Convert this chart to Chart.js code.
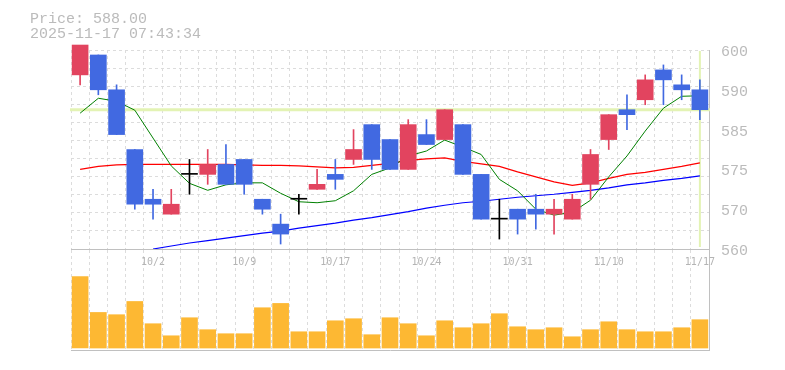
<!DOCTYPE html>
<html>
<head>
<meta charset="utf-8">
<script src="https://cdn.jsdelivr.net/npm/chart.js@4.4.1/dist/chart.umd.min.js"></script>
<style>
body { margin: 0; background: #fff; }
#wrap { position: relative; width: 785px; height: 370px; }
canvas { position: absolute; left: 0; top: 0; }
.info { position: absolute; left: 30px; font: 15px "Liberation Mono", monospace; line-height: 15px; color: #bbb; white-space: pre; }
</style>
</head>
<body>
<div id="wrap">
  <canvas id="vol" width="785" height="370"></canvas>
  <canvas id="price" width="785" height="270"></canvas>
  <div class="info" id="line1" style="top:12px"></div>
  <div class="info" id="line2" style="top:27px"></div>
</div>
<script>
// trading days
var dates = ['9/26','9/29','9/30','10/1','10/2','10/3','10/6','10/7','10/8','10/9',
  '10/10','10/14','10/15','10/16','10/17','10/20','10/21','10/22','10/23','10/24',
  '10/27','10/28','10/29','10/30','10/31','11/4','11/5','11/6','11/7','11/10',
  '11/11','11/12','11/13','11/14','11/17'];
var dateTicks = ['10/2','10/9','10/17','10/24','10/31','11/10','11/17'];

var opens  = [595,599,592,580,570,567,575,575,577,578,570,565,570,572,575,578,585,582,576,583,
  582,585,575,566,568,568,567,566,573,582,588,590,596,593,592];
var closes = [601,592,583,569,569,569,575,577,573,573,568,563,570,573,574,580,578,576,585,581,
  588,575,566,566,566,567,568,570,579,587,587,594,594,592,588];
var highs  = [601,599,593,580,572,572,578,580,581,578,570,567,571,576,578,584,585,582,586,586,
  588,585,575,570,568,571,570,571,580,587,591,595,597,595,594];
var lows   = [593,591,583,568,566,567,571,573,573,571,567,561,567,572,572,577,576,576,576,581,
  582,575,566,562,563,564,563,566,570,580,584,589,589,590,586];

var ma5  = [587.3,590.3,589.7,587.9,582.3,576.7,573.2,571.8,572.9,573.3,573.3,571.2,569.5,569.3,569.7,
  571.7,575.0,576.3,578.7,579.7,581.9,580.5,579.0,574.0,571.7,568.0,566.8,567.4,569.8,574.5,
  578.7,583.7,588.3,590.7,590.8];
var ma25 = [576.0,576.6,576.9,577.0,577.0,577.0,577.0,577.0,577.0,576.9,576.8,576.8,576.7,576.5,576.3,
  576.4,576.8,577.2,577.8,578.1,578.3,577.6,577.1,576.6,575.5,574.5,573.5,572.8,573.3,574.2,
  575.0,575.4,576.0,576.6,577.3];
var ma75 = [null,null,null,null,560.0,560.6,561.2,561.7,562.2,562.7,563.2,563.6,564.2,564.7,565.2,
  565.8,566.3,566.9,567.5,568.2,568.8,569.3,569.6,570.0,570.4,570.7,571.0,571.4,571.8,572.3,
  572.9,573.3,573.8,574.2,574.7];

var volumes = [730,363,340,475,248,125,309,187,146,146,411,455,166,166,278,299,136,309,248,125,
  278,207,248,350,217,187,207,115,187,268,187,166,166,207,289];

var priceMin = 560, priceMax = 600;
var priceTickValues = [560, 568, 576, 584, 592, 600];
var priceTickLabels = ['560', '570', '575', '585', '590', '600'];
var gridRows = 11;
var stamp = '2025-11-17 07:43:34';

var UP = '#e2445f', DOWN = '#4169e1', EVEN = '#000000';
var GRID = '#dcdcdc', FRAME = '#c0c0c0';

var lastPrice = closes[closes.length - 1];
document.getElementById('line1').textContent = 'Price: ' + lastPrice.toFixed(2);
document.getElementById('line2').textContent = stamp;

var bodies = opens.map(function (o, i) { return [o, closes[i]]; });
var wicks = lows.map(function (l, i) { return [l, highs[i]]; });
var colors = opens.map(function (o, i) {
  return closes[i] > o ? UP : (closes[i] < o ? DOWN : EVEN);
});

// light green cross-hair on the last close
var lastMark = {
  id: 'lastMark',
  beforeDatasetsDraw: function (chart) {
    var ctx = chart.ctx, a = chart.chartArea;
    var y = chart.scales.y.getPixelForValue(lastPrice);
    var x = chart.scales.x.getPixelForValue(dates.length - 1);
    ctx.save();
    ctx.strokeStyle = '#e3f3b4';
    ctx.lineWidth = 3;
    ctx.beginPath(); ctx.moveTo(a.left - 1, y); ctx.lineTo(a.right + 1, y); ctx.stroke();
    ctx.lineWidth = 2;
    ctx.beginPath(); ctx.moveTo(x, a.top + 1); ctx.lineTo(x, a.bottom - 2); ctx.stroke();
    ctx.restore();
  }
};

new Chart(document.getElementById('price'), {
  type: 'bar',
  data: {
    labels: dates,
    datasets: [
      { type: 'line', data: ma5, borderColor: '#008000', borderWidth: 1, pointRadius: 0, order: 3 },
      { type: 'line', data: ma25, borderColor: '#ff0000', borderWidth: 1.2, pointRadius: 0, order: 3 },
      { type: 'line', data: ma75, borderColor: '#0000ff', borderWidth: 1.2, pointRadius: 0, order: 3 },
      { data: wicks, backgroundColor: colors, barThickness: 1, grouped: false, order: 2 },
      { data: bodies, backgroundColor: colors, barThickness: 16, grouped: false, minBarLength: 1, clip: false, order: 1 }
    ]
  },
  options: {
    responsive: false,
    animation: false,
    events: [],
    layout: { padding: { left: 71, top: 50, right: 0, bottom: 0 } },
    plugins: { legend: { display: false }, tooltip: { enabled: false } },
    scales: {
      x: {
        offset: true,
        grid: { offset: true, color: GRID, drawTicks: false },
        border: { display: true, color: FRAME, dash: [3, 3] },
        ticks: {
          autoSkip: false, maxRotation: 0, padding: 7, color: '#b4b4b4',
          font: { family: '"DejaVu Sans Mono", monospace', size: 10 },
          callback: function (v, i) { return dateTicks.indexOf(dates[i]) >= 0 ? dates[i] : ''; }
        },
        afterFit: function (s) { s.height = 20; }
      },
      y: {
        position: 'left', min: priceMin, max: priceMax,
        ticks: { display: false },
        grid: { color: GRID, drawTicks: false },
        border: { display: false, dash: [3, 3] },
        afterBuildTicks: function (s) {
          var t = [];
          for (var i = 0; i <= gridRows; i++) t.push({ value: priceMin + i * (priceMax - priceMin) / gridRows });
          s.ticks = t;
        },
        afterFit: function (s) { s.width = 0; }
      },
      yl: {
        position: 'right', min: priceMin, max: priceMax,
        grid: { display: false, drawTicks: false },
        border: { display: true, color: FRAME },
        ticks: {
          padding: 12, color: '#bbb', labelOffset: 2,
          font: { family: '"Liberation Mono", monospace', size: 15 },
          callback: function (v, i) { return priceTickLabels[i]; }
        },
        afterBuildTicks: function (s) {
          s.ticks = priceTickValues.map(function (v) { return { value: v }; });
        },
        afterFit: function (s) { s.width = 76; }
      }
    }
  },
  plugins: [lastMark]
});

new Chart(document.getElementById('vol'), {
  type: 'bar',
  data: {
    labels: dates,
    datasets: [{ data: volumes, backgroundColor: '#fdb833', barThickness: 16 }]
  },
  options: {
    responsive: false,
    animation: false,
    events: [],
    layout: { padding: { left: 71, top: 250, right: 0, bottom: 0 } },
    plugins: { legend: { display: false }, tooltip: { enabled: false } },
    scales: {
      x: {
        offset: true,
        grid: { offset: true, color: GRID, drawTicks: false },
        border: { display: true, color: FRAME, dash: [3, 3] },
        ticks: { display: false },
        afterFit: function (s) { s.height = 20; }
      },
      y: {
        position: 'right', min: -20, max: 1000,
        ticks: { display: false },
        grid: { display: false, drawTicks: false },
        border: { display: true, color: FRAME },
        afterFit: function (s) { s.width = 76; }
      }
    }
  }
});
</script>
</body>
</html>
